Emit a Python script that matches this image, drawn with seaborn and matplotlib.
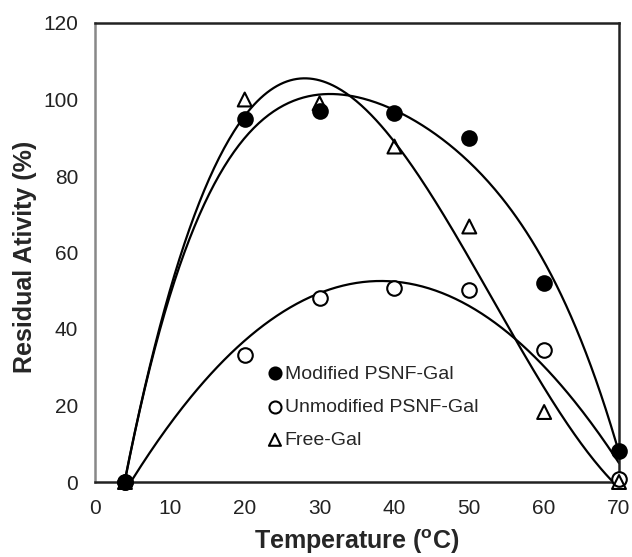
import numpy as np
import pandas as pd
import matplotlib
matplotlib.use("Agg")
import matplotlib.pyplot as plt
import seaborn as sns

temperature = [4, 20, 30, 40, 50, 60, 70]
modified = [0, 95, 97, 96.5, 90, 52, 8]
unmodified = [0, 33.2, 48.2, 50.6, 50.1, 34.5, 0.8]
free_gal = [0, 100, 99, 87.7, 66.8, 18.3, 0]

series_names = ["Modified PSNF-Gal", "Unmodified PSNF-Gal", "Free-Gal"]
series_values = [modified, unmodified, free_gal]

# trend line of the modified series
modified_trend_x = [4, 14.5, 20, 30.8, 40, 50, 54.6, 60, 70]
modified_trend_y = [0, 74, 88, 102, 96.7, 84, 75, 56, 8]

sns.set_theme(style="white")
plt.rcParams['font.family'] = ['Liberation Sans', 'DejaVu Sans']

fig = plt.figure(figsize=(6.32, 5.57), dpi=100)
ax = fig.add_axes([95/632, 75/557, (619-95)/632, (482-23)/557])

rows = []
for name, vals in zip(series_names, series_values):
    for t, v in zip(temperature, vals):
        rows.append({"Temperature": t, "Activity": v, "Series": name})
df = pd.DataFrame(rows)

xs = np.linspace(min(temperature), max(temperature), 300)
trend_sources = [
    (modified_trend_x, modified_trend_y, 4),
    (temperature, unmodified, 2),
    (temperature, free_gal, 3),
]
for tx, ty, deg in trend_sources:
    coef = np.polyfit(tx, ty, deg)
    sns.lineplot(x=xs, y=np.polyval(coef, xs), ax=ax, color="black", lw=1.6, zorder=2)

styles = {
    "Modified PSNF-Gal": dict(marker="o", facecolor="black", s=110, z=4),
    "Unmodified PSNF-Gal": dict(marker="o", facecolor="white", s=110, z=3),
    "Free-Gal": dict(marker="^", facecolor="none", s=100, z=5),
}
for name in series_names:
    sub = df[df["Series"] == name]
    st = styles[name]
    sns.scatterplot(data=sub, x="Temperature", y="Activity", ax=ax, marker=st["marker"],
                    s=st["s"], facecolor=st["facecolor"], edgecolor="black",
                    linewidth=1.5, label=name, zorder=st["z"], clip_on=False)

ax.set_xlim(0, 70)
ax.set_ylim(0, 120)
ax.set_xticks(range(0, 71, 10))
ax.set_yticks(range(0, 121, 20))
ax.tick_params(axis="x", direction="out", length=3, color="#aaaaaa", labelsize=15, pad=9)
ax.tick_params(axis="y", direction="in", length=4, color="#999999", labelsize=15, pad=12)
for t in ax.get_xticklabels() + ax.get_yticklabels():
    t.set_color("#222222")
for side, sp in ax.spines.items():
    sp.set_visible(True)
    sp.set_color("#888888" if side == "left" else "#222222")
    sp.set_linewidth(1.8)

ax.set_xlabel(r"Temperature ($\mathregular{^{o}}$C)", fontsize=18, fontweight="bold", labelpad=7)
ax.set_ylabel("Residual Ativity (%)", fontsize=18, fontweight="bold")
ax.yaxis.set_label_coords(-0.11, 0.49)

leg = ax.legend(loc="upper left", bbox_to_anchor=(0.31, 0.272), frameon=False, fontsize=14,
                handletextpad=0.0, labelspacing=0.8, borderaxespad=0, handlelength=1.0)
for h in leg.legend_handles:
    h.set_sizes([75])

fig.savefig("out.png", dpi=100)
